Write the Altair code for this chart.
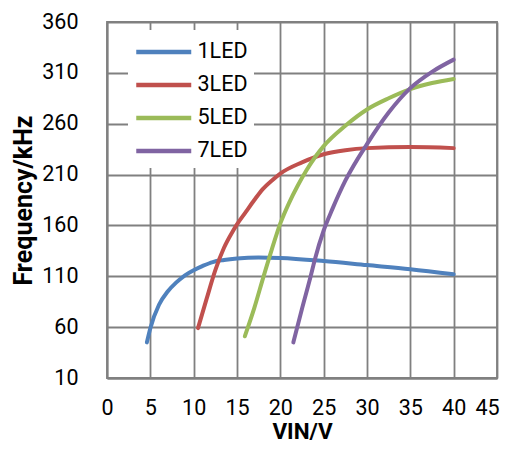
import altair as alt
import pandas as pd

series_names = ["1LED", "3LED", "5LED", "7LED"]
colors = ["#4f81bd", "#c0504d", "#9bbb59", "#8064a2"]

x_1led = [4.6, 5.0, 6.0, 7.0, 8.0, 9.0, 10.0, 11.0, 12.2, 13.5, 15.0, 17.5, 20.0, 25.0, 30.0, 35.0, 40.0]
y_1led = [45, 59, 82, 95, 104, 111, 116, 120, 124, 126, 127.5, 128.5, 128, 125, 121, 117, 112]

x_3led = [10.5, 11.5, 12.5, 13.5, 14.5, 15.0, 16.0, 17.0, 18.0, 19.0, 20.0, 22.5, 25.0, 27.5, 30.0, 35.0, 40.0]
y_3led = [59, 88, 116, 138, 154, 161, 173, 185, 196, 204, 211, 222, 230, 234, 236, 237, 236]

x_5led = [15.9, 17.0, 18.0, 19.0, 20.0, 21.0, 22.0, 23.0, 24.0, 25.0, 27.5, 30.0, 32.5, 35.0, 37.5, 40.0]
y_5led = [51, 79, 108, 136, 162, 182, 199, 214, 227, 238, 258, 274, 285, 294, 300, 304]

x_7led = [21.5, 22.5, 23.5, 24.0, 25.0, 26.0, 27.5, 30.0, 32.5, 35.0, 37.5, 40.0]
y_7led = [45, 78, 110, 127, 155, 176, 204, 240, 271, 295, 311, 323]

x_ticks = [0, 5, 10, 15, 20, 25, 30, 35, 40, 45]
y_ticks = [10, 60, 110, 160, 210, 260, 310, 360]

rows = []
for name, xs, ys in zip(series_names, [x_1led, x_3led, x_5led, x_7led], [y_1led, y_3led, y_5led, y_7led]):
    for i, (xv, yv) in enumerate(zip(xs, ys)):
        rows.append({"series": name, "vin": xv, "freq": yv, "order": i})
df = pd.DataFrame(rows)

FONT = "Roboto"
GRID = "#808080"
GW = 1.8

chart = alt.Chart(df).mark_line(strokeWidth=4, strokeCap="round", interpolate="monotone").encode(
    x=alt.X("vin:Q",
            scale=alt.Scale(domain=[0, 45], nice=False, zero=False),
            axis=alt.Axis(values=x_ticks, title="VIN/V", grid=True, gridColor=GRID, gridWidth=GW,
                          domainColor=GRID, domainWidth=GW, ticks=False, labelPadding=19,
                          labelFontSize=21.5, labelFont=FONT, labelColor="black",
                          labelOffset={"condition": {"test": "datum.value == 45", "value": -10}, "value": 0},
                          titleFont=FONT, titleFontSize=22.5, titleFontWeight="bold", titleColor="black",
                          titlePadding=2, labelFlush=False)),
    y=alt.Y("freq:Q",
            scale=alt.Scale(domain=[10, 360], nice=False, zero=False),
            axis=alt.Axis(values=y_ticks, title="Frequency/kHz", grid=True, gridColor=GRID, gridWidth=GW,
                          domainColor=GRID, domainWidth=GW, ticks=False, labelPadding=29,
                          labelFontSize=21.5, labelFont=FONT, labelColor="black",
                          titleFont=FONT, titleFontSize=25, titleFontWeight="bold", titleColor="black",
                          titlePadding=5, labelFlush=False)),
    color=alt.Color("series:N",
                    scale=alt.Scale(domain=series_names, range=colors),
                    legend=alt.Legend(title=None, orient="none", legendX=21, legendY=8,
                                      symbolType="M-1,0H3", symbolSize=756, symbolStrokeWidth=4.5,
                                      labelFont=FONT, labelFontSize=21.5, labelColor="black",
                                      labelOffset=31.5, rowPadding=6, fillColor="white",
                                      padding=6)),
    order="order:Q",
).properties(
    width=390, height=356,
    autosize=alt.AutoSizeParams(type="none"),
    padding={"left": 99, "top": 14, "right": 3, "bottom": 65},
).configure_view(stroke=GRID, strokeWidth=GW)

chart.save("out.html", embed_options={"renderer": "svg", "actions": False})
